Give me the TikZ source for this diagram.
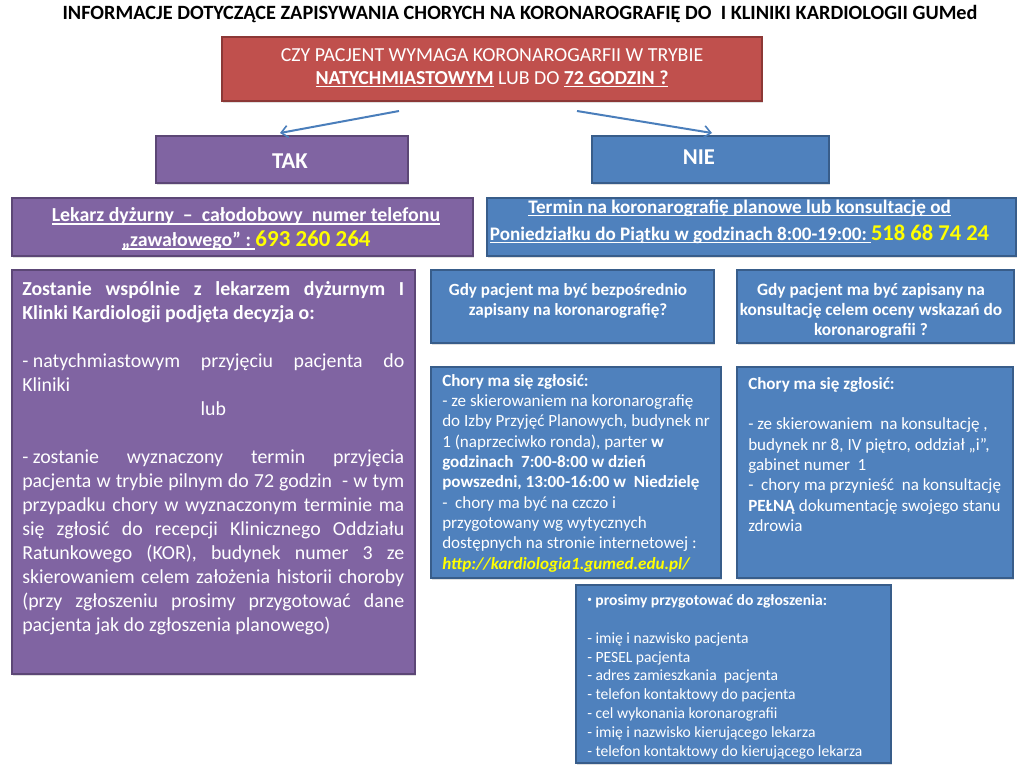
\documentclass[tikz,border=0pt]{standalone}
\usepackage{fontspec}
\setmainfont{Carlito}
\usetikzlibrary{calc,arrows.meta,shadows}
\definecolor{pur}{HTML}{8064A2}
\definecolor{purd}{HTML}{5C4776}
\definecolor{blu}{HTML}{4F81BD}
\definecolor{blud}{HTML}{385D8A}
\definecolor{redf}{HTML}{C0504D}
\definecolor{redd}{HTML}{8C3836}
\definecolor{yel}{HTML}{FFFF00}
\definecolor{arrc}{HTML}{4A7EBB}
\tikzset{
  box/.style={draw, line width=1.5pt, inner sep=0pt, text=white, drop shadow={opacity=0.25, shadow xshift=0.8pt, shadow yshift=-1.2pt}},
  pbox/.style={box, fill=pur, draw=purd},
  bbox/.style={box, fill=blu, draw=blud},
  rbox/.style={box, fill=redf, draw=redd},
  txt/.style={inner sep=0pt, text=white},
  arr/.style={draw=arrc, line width=1.5pt, -{Straight Barb[length=5pt,width=9pt,line width=1.2pt]}},
}
\newcommand{\fs}[2]{\fontsize{#1}{#2}\selectfont}
\newsavebox\myulbox
\newcommand{\myul}[1]{\sbox\myulbox{#1}\rlap{\rule[-0.14em]{\wd\myulbox}{0.07em}}\usebox\myulbox}
\begin{document}
\begin{tikzpicture}[x=0.75pt,y=-0.75pt]
\useasboundingbox (0,0) rectangle (1024,768);
\fill[white] (0,0) rectangle (1024,768);

% title
\node[inner sep=0pt, font=\fs{15.2}{17}\bfseries] (title) at (520,14) {INFORMACJE DOTYCZĄCE ZAPISYWANIA CHORYCH NA KORONAROGRAFIĘ DO\ \ I KLINIKI KARDIOLOGII GUMed};

% question
\node[rbox, minimum width=405pt, minimum height=48pt] (q) at (492,69) {};
\node[txt, align=center, font=\fs{14.9}{17.25}] (qt) at (492,68) {CZY PACJENT WYMAGA KORONAROGARFII W TRYBIE\\ \myul{\textbf{NATYCHMIASTOWYM}} LUB DO \myul{\textbf{72 GODZIN ?}}};

% TAK / NIE
\node[pbox, minimum width=189pt, minimum height=35.25pt] (tak) at (282,159.5) {};
\node[txt, font=\fs{17}{20}\bfseries] (takt) at (290,161) {TAK};
\node[bbox, minimum width=177.75pt, minimum height=35.25pt] (nie) at (710.5,159.5) {};
\node[txt, font=\fs{17}{20}\bfseries] (niet) at (699,157) {NIE};

\draw[arr] ($(q.south)+(-93,9)$) -- ($(tak.north)+(-2,-2)$);
\draw[arr] ($(q.south)+(85,9)$) -- ($(nie.north)+(1.5,-2)$);

% phone boxes
\node[pbox, minimum width=345.75pt, minimum height=43.5pt] (lek) at (242.5,227) {};
\node[txt, align=center, font=\fs{14.9}{18.75}\bfseries] (lekt) at (246,229) {\myul{Lekarz dyżurny\ \ –\ \ całodobowy\ \ numer telefonu}\\ \myul{„zawałowego”\ :\ }{\fs{17.2}{18.75}\color{yel}693 260 264}};
\node[bbox, minimum width=396.75pt, minimum height=43.5pt] (term) at (751.5,227) {};
\node[txt, align=center, font=\fs{14.35}{20}\bfseries] (termt) at (739.5,222) {\myul{Termin na koronarografię planowe lub konsultację od}\\ \myul{Poniedziałku do Piątku w godzinach 8:00-19:00:\ }{\fs{16.9}{20}\color{yel}518 68 74 24}};

% big left box
\node[pbox, minimum width=302.25pt, minimum height=303pt] (big) at (213.5,472) {};
\node[txt, anchor=north west, text width=286.5pt, align=justify, font=\fs{14.9}{18}] (bigt) at (22,281) {\hyphenpenalty=10000 %
{\bfseries Zostanie wspólnie z lekarzem dyżurnym I\linebreak Klinki Kardiologii podjęta decyzja o:}\par
\vspace{18pt}
\mbox{- natychmiastowym} przyjęciu pacjenta do\linebreak Kliniki\par
\hspace*{0pt}\hfill lub\hfill\hspace*{0pt}\par
\vspace{18pt}
\mbox{- zostanie} wyznaczony termin przyjęcia\linebreak pacjenta w trybie pilnym do 72 godzin\ \ - w tym\linebreak przypadku chory w wyznaczonym terminie ma\linebreak się zgłosić do recepcji Klinicznego Oddziału\linebreak Ratunkowego (KOR), budynek numer 3 ze\linebreak skierowaniem celem założenia historii choroby\linebreak (przy zgłoszeniu prosimy przygotować dane\linebreak pacjenta jak do zgłoszenia planowego)\par};

% question boxes
\node[bbox, minimum width=212.25pt, minimum height=54.75pt] (g1) at (572.5,306.5) {};
\node[txt, align=center, font=\fs{12.8}{15}\bfseries] (g1t) at (568,301) {Gdy pacjent ma być bezpośrednio\\ zapisany na koronarografię?};
\node[bbox, minimum width=207.75pt, minimum height=54.75pt] (g2) at (875.5,306.5) {};
\node[txt, align=center, font=\fs{13}{15}\bfseries] (g2t) at (871,311) {Gdy pacjent ma być zapisany na\\ konsultację celem oceny wskazań do\\ koronarografii ?};

% Chory boxes
\node[bbox, minimum width=217.5pt, minimum height=158.25pt] (c1) at (576,472.5) {};
\node[txt, anchor=north west, align=left, font=\fs{12.8}{15.25}] (c1t) at (442,374) {%
\textbf{Chory ma się zgłosić:}\\
- ze skierowaniem na koronarografię\\
do Izby Przyjęć Planowych, budynek nr\\
1 (naprzeciwko ronda), parter \textbf{w}\\
\textbf{godzinach\ \ 7:00-8:00 w dzień}\\
\textbf{powszedni, 13:00-16:00 w\ \ Niedzielę}\\
-\ \ chory ma być na czczo i\\
przygotowany wg wytycznych\\
dostępnych na stronie internetowej :\\
{\color{yel}\bfseries\itshape http://kardiologia1.gumed.edu.pl/}};

\node[bbox, minimum width=207pt, minimum height=158.25pt] (c2) at (875,472.5) {};
\node[txt, anchor=north west, align=left, font=\fs{12.8}{15.25}] (c2t) at (748,377) {%
\textbf{Chory ma się zgłosić:}\\[15.25pt]
- ze skierowaniem\ \ na konsultację ,\\
budynek nr 8, IV piętro, oddział „i”,\\
gabinet numer\ \ 1\\
-\ \ chory ma przynieść\ \ na konsultację\\
\textbf{PEŁNĄ} dokumentację swojego stanu\\
zdrowia};

% bottom box
\node[bbox, minimum width=236.25pt, minimum height=133.5pt] (bot) at (733.5,674) {};
\node[txt, anchor=north west, align=left, font=\fs{11.7}{14.2}] (bott) at (587,594) {%
\raisebox{0.15em}{\fs{7}{14.2}•}\ \textbf{prosimy przygotować do zgłoszenia:}\\[14.2pt]
- imię i nazwisko pacjenta\\
- PESEL pacjenta\\
- adres zamieszkania\ \ pacjenta\\
- telefon kontaktowy do pacjenta\\
- cel wykonania koronarografii\\
- imię i nazwisko kierującego lekarza\\
- telefon kontaktowy do kierującego lekarza};
\end{tikzpicture}
\end{document}
